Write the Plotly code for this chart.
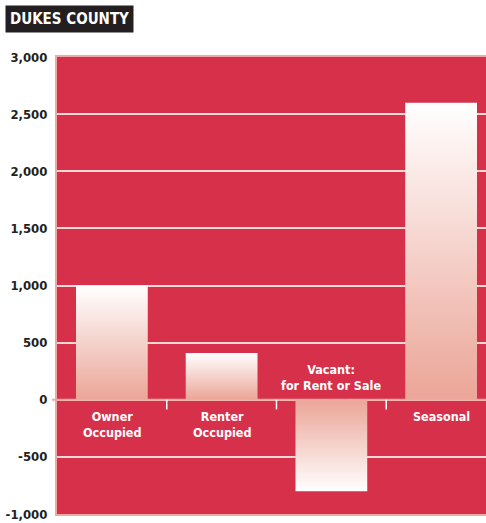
import plotly.graph_objects as go

categories = ["Owner<br>Occupied", "Renter<br>Occupied", "Vacant:<br>for Rent or Sale", "Seasonal"]
values = [1000, 410, -800, 2600]
tick_vals = [-1000, -500, 0, 500, 1000, 1500, 2000, 2500, 3000]
tick_text = ["-1,000", "-500", "0", "500", "1,000", "1,500", "2,000", "2,500", "3,000"]
title_text = "DUKES COUNTY"

RED = "#D6304A"
PINK_LINE = "#EFA9A2"
GRID = "#F6D9D4"
BAR_BASE = "#EBA597"
FONT = "DejaVu Sans Condensed, Liberation Sans Narrow, sans-serif"

half_w = 0.327
fig = go.Figure()
for i, v in enumerate(values):
    xs = [i - half_w, i + half_w, i + half_w, i - half_w, i - half_w]
    ys = [0, 0, v, v, 0]
    cs = [[0, BAR_BASE], [1, "#FFFFFF"]] if v >= 0 else [[0, "#FFFFFF"], [1, BAR_BASE]]
    fig.add_trace(go.Scatter(
        x=xs, y=ys, mode="lines", fill="toself",
        line=dict(width=0, color="rgba(0,0,0,0)"),
        fillgradient=dict(type="vertical", colorscale=cs),
        hoverinfo="skip", showlegend=False,
    ))
    if v >= 0:
        fig.add_annotation(x=i, y=0, text=categories[i], showarrow=False,
                           yanchor="top", yshift=-7,
                           font=dict(family=FONT, size=12.5, color="white", weight="bold"))
    else:
        fig.add_annotation(x=i, y=0, text=categories[i], showarrow=False,
                           yanchor="bottom", yshift=5,
                           font=dict(family=FONT, size=12.5, color="white", weight="bold"))

# zero line and category separator ticks
fig.add_shape(type="line", xref="paper", yref="y", x0=-0.012, x1=1, y0=0, y1=0,
              line=dict(color=PINK_LINE, width=2), layer="above")
for b in [0.5, 1.5, 2.5]:
    fig.add_shape(type="line", xref="x", yref="y", x0=b, x1=b, y0=0, y1=-85,
                  line=dict(color="white", width=1.5), layer="above")

fig.add_annotation(xref="paper", yref="paper", x=-52/429, y=1 + (57 - 19.5) / 457,
                   xanchor="left", yanchor="middle", text=title_text, showarrow=False,
                   bgcolor="#231F20", borderpad=4,
                   font=dict(family=FONT, size=15, color="white", weight="bold"))

fig.update_layout(
    width=486, height=523,
    margin=dict(l=57, r=0, t=57, b=9),
    paper_bgcolor="white", plot_bgcolor=RED,
    xaxis=dict(range=[-0.5, 3.409], showgrid=False, zeroline=False,
               showticklabels=False, ticks="", showline=True, mirror=True,
               linecolor=PINK_LINE, linewidth=2, fixedrange=True),
    yaxis=dict(range=[-1000, 3000], tickvals=tick_vals, ticktext=tick_text,
               showgrid=True, gridcolor=GRID, gridwidth=1.5, zeroline=False,
               showline=True, linecolor=PINK_LINE, linewidth=2,
               ticks="", ticklabelstandoff=5, ticklabeloverflow="allow",
               tickfont=dict(family=FONT, size=13, color="#231F20", weight="bold")),
)

fig.write_html("out.html")
